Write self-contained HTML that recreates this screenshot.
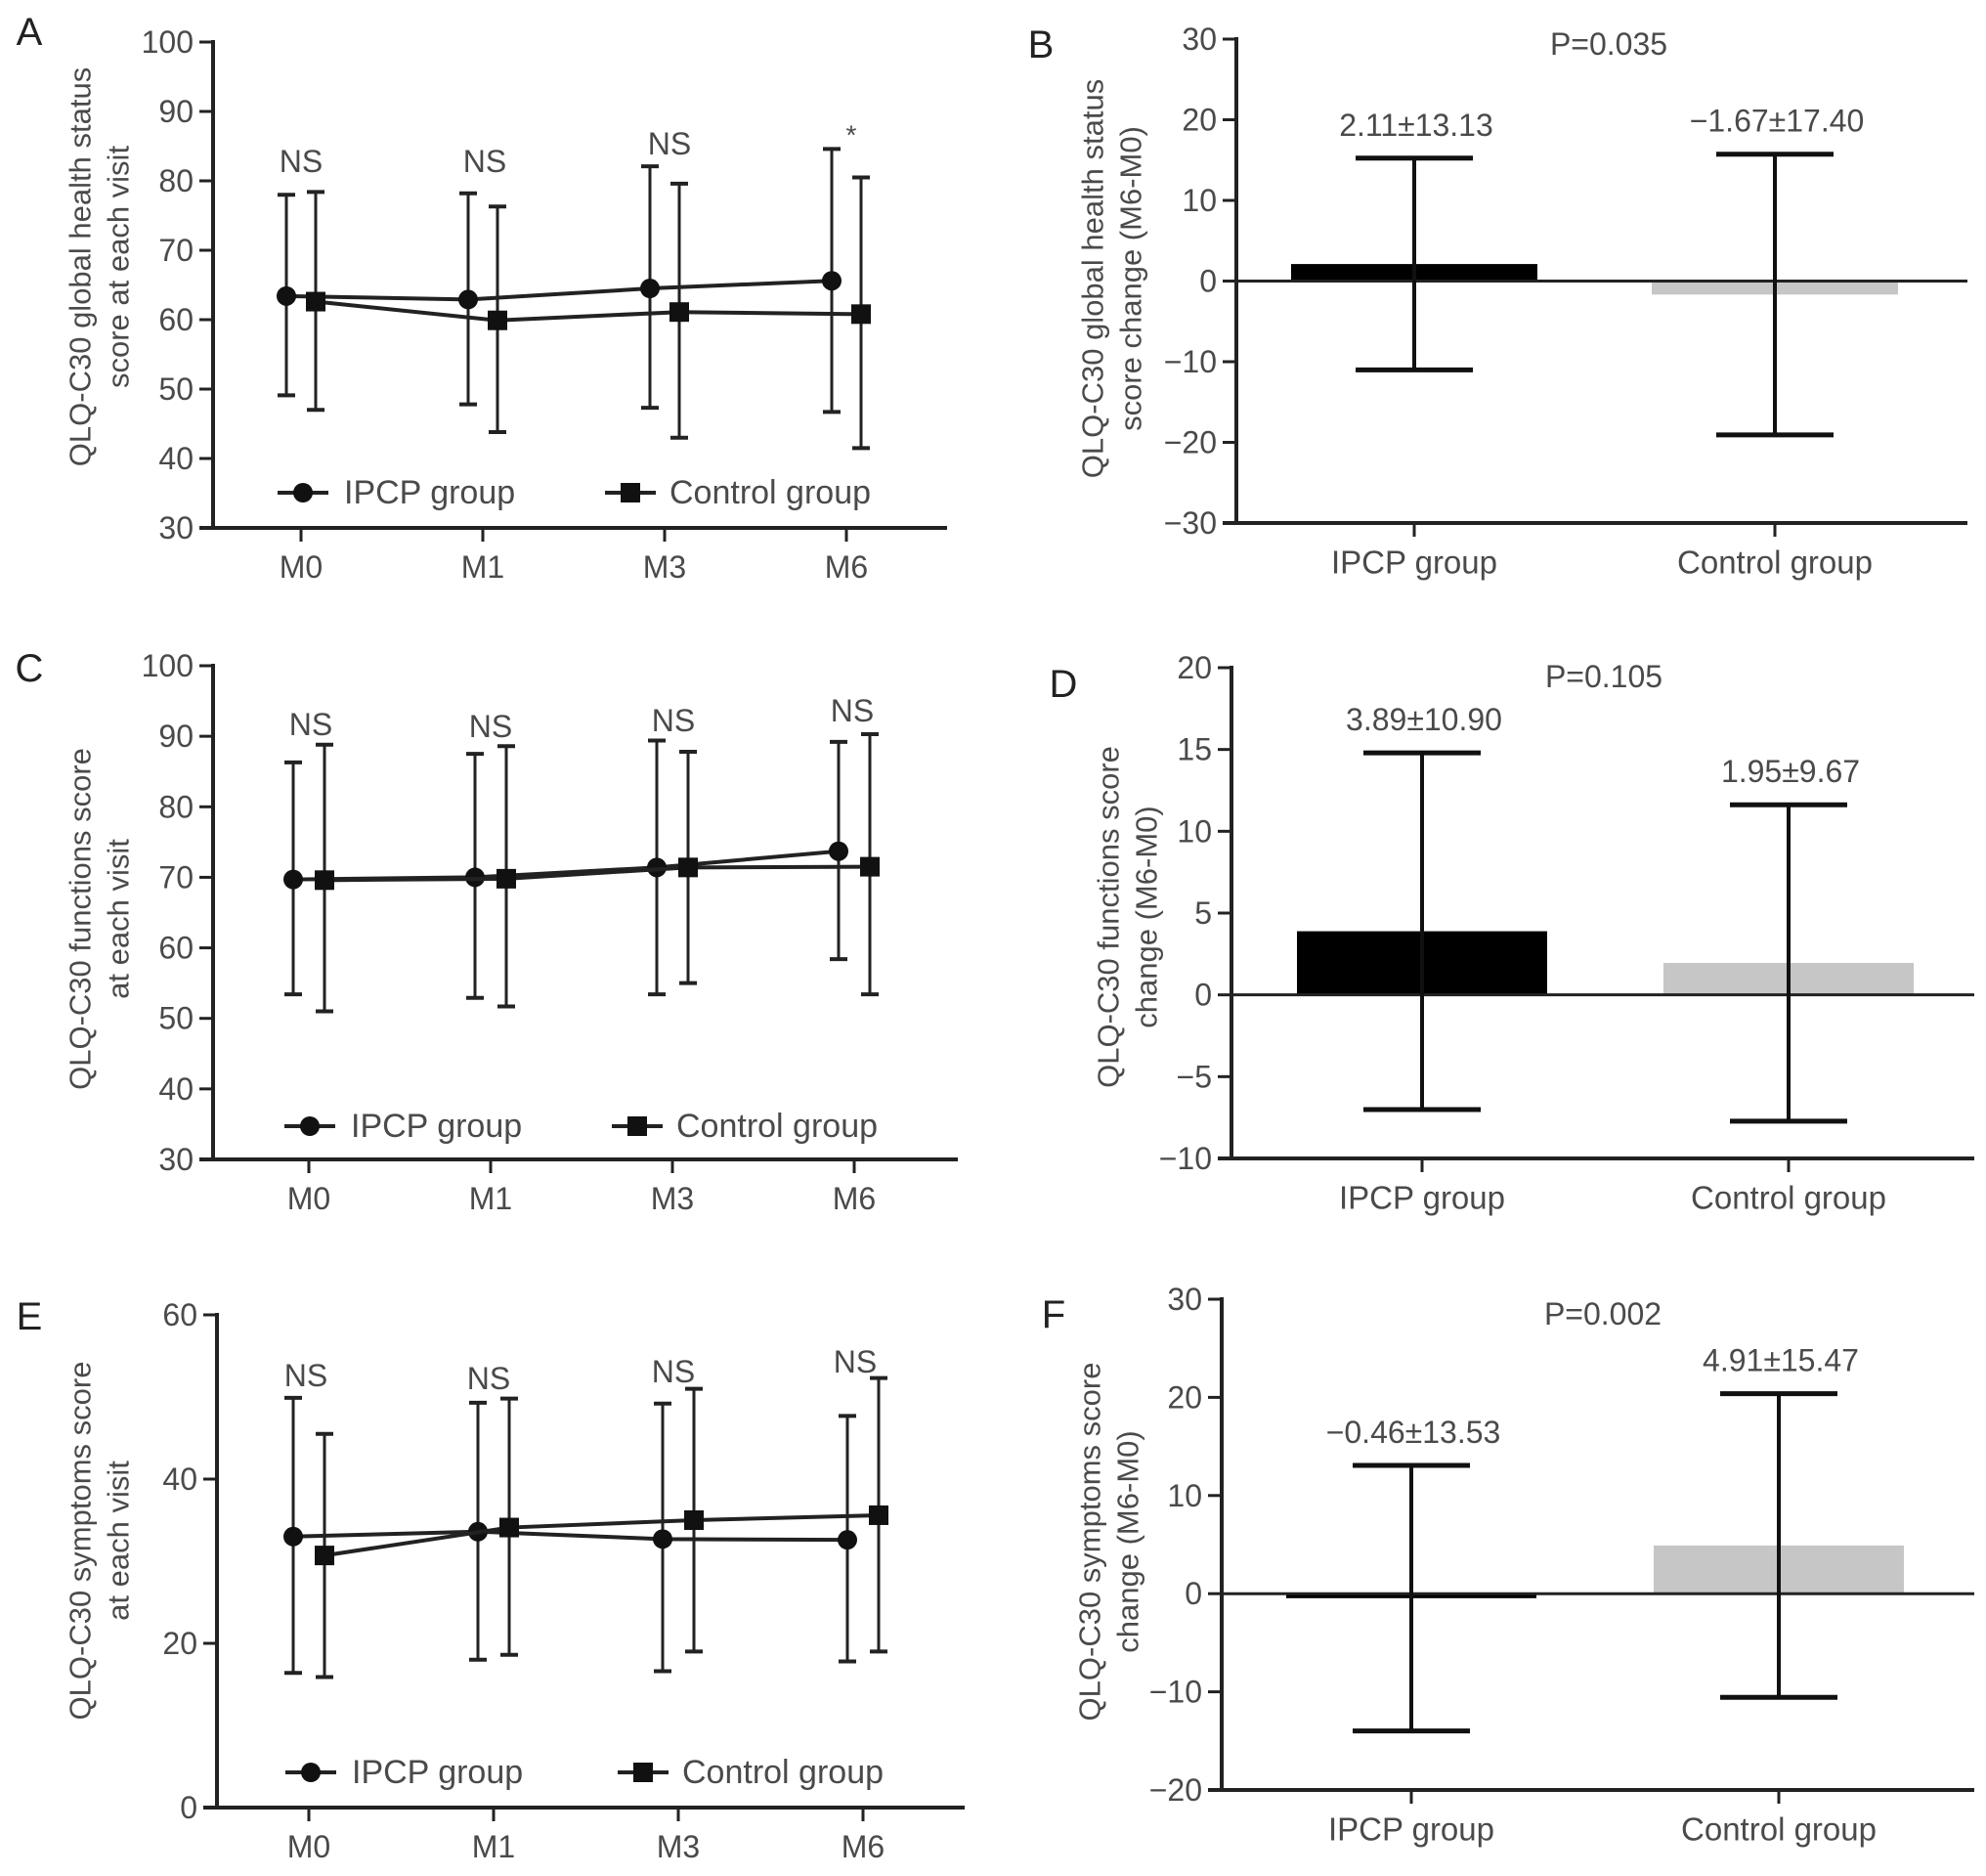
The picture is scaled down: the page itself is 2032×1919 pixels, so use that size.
<!DOCTYPE html>
<html><head><meta charset="utf-8">
<style>
html,body{margin:0;padding:0;background:#fff;}
svg{display:block;}
text{font-family:"Liberation Sans",sans-serif;fill:#4a4a4a;}
</style></head>
<body>
<svg id="fig" width="2032" height="1919" viewBox="0 0 2032 1919" xmlns="http://www.w3.org/2000/svg"></svg>
<script>
// ---- data ----
const visits = ["M0","M1","M3","M6"];
// Panel A
const aIpcpMean = [63.4, 62.9, 64.5, 65.6];
const aIpcpUp   = [78.0, 78.2, 82.1, 84.6];
const aIpcpLow  = [49.1, 47.8, 47.3, 46.7];
const aCtrlMean = [62.6, 59.9, 61.1, 60.8];
const aCtrlUp   = [78.4, 76.3, 79.6, 80.5];
const aCtrlLow  = [47.0, 43.8, 43.0, 41.5];
const aSig = ["NS","NS","NS","*"];
const aTicks = [30,40,50,60,70,80,90,100];
// Panel C
const cIpcpMean = [69.7, 70.0, 71.4, 73.7];
const cIpcpUp   = [86.3, 87.5, 89.4, 89.2];
const cIpcpLow  = [53.4, 52.9, 53.4, 58.4];
const cCtrlMean = [69.6, 69.8, 71.4, 71.5];
const cCtrlUp   = [88.8, 88.6, 87.8, 90.3];
const cCtrlLow  = [51.0, 51.7, 55.0, 53.4];
const cSig = ["NS","NS","NS","NS"];
const cTicks = [30,40,50,60,70,80,90,100];
// Panel E
const eIpcpMean = [33.0, 33.6, 32.7, 32.6];
const eIpcpUp   = [49.9, 49.3, 49.2, 47.7];
const eIpcpLow  = [16.4, 18.0, 16.6, 17.8];
const eCtrlMean = [30.7, 34.1, 35.0, 35.6];
const eCtrlUp   = [45.5, 49.8, 51.0, 52.3];
const eCtrlLow  = [15.9, 18.6, 19.0, 19.0];
const eSig = ["NS","NS","NS","NS"];
const eTicks = [0,20,40,60];
// Bar panels
const groups = ["IPCP group","Control group"];
const bMean = [2.11, -1.67];
const bSD   = [13.13, 17.40];
const bTicks = [-30,-20,-10,0,10,20,30];
const dMean = [3.89, 1.95];
const dSD   = [10.90, 9.67];
const dTicks = [-10,-5,0,5,10,15,20];
const fMean = [-0.46, 4.91];
const fSD   = [13.53, 15.47];
const fTicks = [-20,-10,0,10,20,30];

const NS = "http://www.w3.org/2000/svg";
const svg = document.getElementById('fig');
function el(tag, attrs, parent, txt){
  const e = document.createElementNS(NS, tag);
  for (const k in attrs) e.setAttribute(k, attrs[k]);
  if (txt !== undefined) e.textContent = txt;
  (parent || svg).appendChild(e);
  return e;
}
function fmt(v){ return (v<0?"\u2212":"") + Math.abs(v).toFixed(2); }

function linePanel(cfg, ipM, ipU, ipL, ctM, ctU, ctL, sig, ticks){
  const g = el('g', {});
  
  
  const yS = v => cfg.y0 + (v - cfg.vmin) / (cfg.vmax - cfg.vmin) * (cfg.y1 - cfg.y0);
  const xS = i => cfg.xt[0] + i * (cfg.xt[1] - cfg.xt[0]);
  const L = el('text', {x: cfg.lx, y: cfg.ly, 'font-size': 40, 'text-anchor':'middle', 'dominant-baseline':'central', style:'fill:#222'}, g, cfg.letter);
  
  
  const ax = el('line', {x1: cfg.ax, y1: yS(cfg.vmax) - 2, x2: cfg.ax, y2: cfg.y0 + 2, stroke:'#222', 'stroke-width':4}, g);
  
  
  const xa = el('line', {x1: cfg.ax - 14, y1: cfg.y0, x2: cfg.xend, y2: cfg.y0, stroke:'#222', 'stroke-width':4}, g);
  
  
  ticks.forEach(t => {
    el('line', {x1: cfg.ax - 14, y1: yS(t), x2: cfg.ax, y2: yS(t), stroke:'#222', 'stroke-width':3}, g);
    const tl = el('text', {x: cfg.ax - 20, y: yS(t), 'font-size': 32, 'text-anchor':'end', 'dominant-baseline':'central'}, g, t);
    
    
  });
  visits.forEach((v, i) => {
    el('line', {x1: xS(i), y1: cfg.y0, x2: xS(i), y2: cfg.y0 + 14, stroke:'#222', 'stroke-width':3}, g);
    const tl = el('text', {x: xS(i), y: cfg.y0 + 40, 'font-size': 32, 'text-anchor':'middle', 'dominant-baseline':'central'}, g, v);
    
    
  });
  const tt = el('text', {transform:`translate(${cfg.tx},${cfg.ty}) rotate(-90)`, 'font-size': 31, 'text-anchor':'middle'}, g);
  
  
  el('tspan', {x:0, y:0, 'dominant-baseline':'central'}, tt, cfg.t1);
  el('tspan', {x:0, y:39, 'dominant-baseline':'central'}, tt, cfg.t2);
  const series = [
    {m: ipM, u: ipU, l: ipL, off: -cfg.off, shape:'circle', name:'ipcp'},
    {m: ctM, u: ctU, l: ctL, off: cfg.off, shape:'square', name:'control'}
  ];
  series.forEach(s => {
    s.m.forEach((m, i) => {
      const x = xS(i) + s.off;
      const eb = el('g', {}, g);
      
      
      el('line', {x1:x, y1:yS(s.u[i]), x2:x, y2:yS(s.l[i]), stroke:'#222', 'stroke-width':3}, eb);
      el('line', {x1:x-9, y1:yS(s.u[i]), x2:x+9, y2:yS(s.u[i]), stroke:'#222', 'stroke-width':4}, eb);
      el('line', {x1:x-9, y1:yS(s.l[i]), x2:x+9, y2:yS(s.l[i]), stroke:'#222', 'stroke-width':4}, eb);
    });
    const pts = s.m.map((m, i) => (xS(i) + s.off) + ',' + yS(m)).join(' ');
    const pl = el('polyline', {points: pts, fill:'none', stroke:'#222', 'stroke-width':4}, g);
    
    
    s.m.forEach((m, i) => {
      const x = xS(i) + s.off, y = yS(m);
      let mk;
      if (s.shape === 'circle') mk = el('circle', {cx:x, cy:y, r:10, fill:'#111'}, g);
      else mk = el('rect', {x:x-10, y:y-10, width:20, height:20, fill:'#111'}, g);
      
      
    });
  });
  sig.forEach((s, i) => {
    const st = el('text', {x: xS(i) + cfg.sigDx[i], y: cfg.sigY[i], 'font-size': s === '*' ? 28 : 32, 'text-anchor':'middle', 'dominant-baseline':'central'}, g, s);
    
    
  });
  const lg = el('g', {}, g);
  
  
  const e1 = el('g', {}, lg);
  
  
  el('line', {x1: cfg.lg1 - 26, y1: cfg.lgy, x2: cfg.lg1 + 26, y2: cfg.lgy, stroke:'#222', 'stroke-width':4}, e1);
  el('circle', {cx: cfg.lg1, cy: cfg.lgy, r:10, fill:'#111'}, e1);
  el('text', {x: cfg.lg1 + 42, y: cfg.lgy, 'font-size': 34, 'dominant-baseline':'central'}, e1, 'IPCP group');
  const e2 = el('g', {}, lg);
  
  
  el('line', {x1: cfg.lg2 - 26, y1: cfg.lgy, x2: cfg.lg2 + 26, y2: cfg.lgy, stroke:'#222', 'stroke-width':4}, e2);
  el('rect', {x: cfg.lg2 - 10, y: cfg.lgy - 10, width:20, height:20, fill:'#111'}, e2);
  el('text', {x: cfg.lg2 + 40, y: cfg.lgy, 'font-size': 34, 'dominant-baseline':'central'}, e2, 'Control group');
}

function barPanel(cfg, means, sds, ticks){
  const g = el('g', {});
  
  
  const yS = v => cfg.y0 + (v - cfg.vmin) / (cfg.vmax - cfg.vmin) * (cfg.y1 - cfg.y0);
  const L = el('text', {x: cfg.lx, y: cfg.ly, 'font-size': 40, 'text-anchor':'middle', 'dominant-baseline':'central', style:'fill:#222'}, g, cfg.letter);
  
  
  const fills = ['#000', '#c6c6c6'];
  means.forEach((m, i) => {
    const x = cfg.xt[i];
    const b = el('rect', {x: x - cfg.bw/2, y: Math.min(yS(m), yS(0)), width: cfg.bw, height: Math.abs(yS(m) - yS(0)), fill: fills[i]}, g);
    
    
  });
  const zl = el('line', {x1: cfg.ax, y1: yS(0), x2: cfg.xend, y2: yS(0), stroke:'#222', 'stroke-width':3}, g);
  
  
  means.forEach((m, i) => {
    const x = cfg.xt[i];
    const up = yS(m + sds[i]), lo = yS(m - sds[i]);
    const eb = el('g', {}, g);
    
    
    el('line', {x1:x, y1:up, x2:x, y2:lo, stroke:'#111', 'stroke-width':4}, eb);
    el('line', {x1:x-60, y1:up, x2:x+60, y2:up, stroke:'#111', 'stroke-width':5}, eb);
    el('line', {x1:x-60, y1:lo, x2:x+60, y2:lo, stroke:'#111', 'stroke-width':5}, eb);
    const vl = el('text', {x: x + 2, y: up - 34, 'font-size': 32, 'text-anchor':'middle', 'dominant-baseline':'central'}, g, fmt(m) + '\u00b1' + sds[i].toFixed(2));
    
    
    el('line', {x1:x, y1:cfg.y0, x2:x, y2:cfg.y0 + 14, stroke:'#222', 'stroke-width':3}, g);
    const cl = el('text', {x: x, y: cfg.y0 + 40, 'font-size': 33, 'text-anchor':'middle', 'dominant-baseline':'central'}, g, groups[i]);
    
    
  });
  const ax = el('line', {x1: cfg.ax, y1: yS(cfg.vmax) - 2, x2: cfg.ax, y2: cfg.y0 + 2, stroke:'#222', 'stroke-width':4}, g);
  
  
  const xa = el('line', {x1: cfg.ax - 14, y1: cfg.y0, x2: cfg.xend, y2: cfg.y0, stroke:'#222', 'stroke-width':4}, g);
  
  
  ticks.forEach(t => {
    el('line', {x1: cfg.ax - 14, y1: yS(t), x2: cfg.ax, y2: yS(t), stroke:'#222', 'stroke-width':3}, g);
    const tl = el('text', {x: cfg.ax - 20, y: yS(t), 'font-size': 32, 'text-anchor':'end', 'dominant-baseline':'central'}, g, (t < 0 ? '\u2212' + Math.abs(t) : t));
    
    
  });
  const tt = el('text', {transform:`translate(${cfg.tx},${cfg.ty}) rotate(-90)`, 'font-size': 31, 'text-anchor':'middle'}, g);
  
  
  el('tspan', {x:0, y:0, 'dominant-baseline':'central'}, tt, cfg.t1);
  el('tspan', {x:0, y:39, 'dominant-baseline':'central'}, tt, cfg.t2);
  const p = el('text', {x: cfg.px, y: cfg.py, 'font-size': 32, 'text-anchor':'middle', 'dominant-baseline':'central'}, g, cfg.p);
  
  
}

linePanel({letter:'A', lx:30, ly:33, ax:218, y0:540, y1:43, vmin:30, vmax:100, xt:[308,494], xend:969, off:15,
  tx:82, ty:273, t1:'QLQ-C30 global health status', t2:'score at each visit',
  sigDx:[0,2,5,5], sigY:[165,165,147,138], lg1:310, lg2:645, lgy:504},
  aIpcpMean, aIpcpUp, aIpcpLow, aCtrlMean, aCtrlUp, aCtrlLow, aSig, aTicks);
linePanel({letter:'C', lx:30, ly:684, ax:218, y0:1186, y1:681, vmin:30, vmax:100, xt:[316,502], xend:980, off:16,
  tx:82, ty:940, t1:'QLQ-C30 functions score', t2:'at each visit',
  sigDx:[2,0,1,-2], sigY:[741,743,737,727], lg1:317, lg2:652, lgy:1152},
  cIpcpMean, cIpcpUp, cIpcpLow, cCtrlMean, cCtrlUp, cCtrlLow, cSig, cTicks);
linePanel({letter:'E', lx:30, ly:1347, ax:222, y0:1849, y1:1345, vmin:0, vmax:60, xt:[316,505], xend:987, off:16,
  tx:82, ty:1576, t1:'QLQ-C30 symptoms score', t2:'at each visit',
  sigDx:[-3,-5,-5,-8], sigY:[1407,1410,1403,1393], lg1:318, lg2:658, lgy:1813},
  eIpcpMean, eIpcpUp, eIpcpLow, eCtrlMean, eCtrlUp, eCtrlLow, eSig, eTicks);

barPanel({letter:'B', lx:1065, ly:46, ax:1265, y0:535, y1:40, vmin:-30, vmax:30, xt:[1447,1816], bw:252, xend:2013,
  tx:1118, ty:285, t1:'QLQ-C30 global health status', t2:'score change (M6-M0)', p:'P=0.035', px:1646, py:45},
  bMean, bSD, bTicks);
barPanel({letter:'D', lx:1088, ly:700, ax:1260, y0:1185, y1:683, vmin:-10, vmax:20, xt:[1455,1830], bw:256, xend:2020,
  tx:1134, ty:938, t1:'QLQ-C30 functions score', t2:'change (M6-M0)', p:'P=0.105', px:1641, py:692},
  dMean, dSD, dTicks);
barPanel({letter:'F', lx:1078, ly:1345, ax:1250, y0:1831, y1:1329, vmin:-20, vmax:30, xt:[1444,1820], bw:256, xend:2020,
  tx:1115, ty:1577, t1:'QLQ-C30 symptoms score', t2:'change (M6-M0)', p:'P=0.002', px:1640, py:1344},
  fMean, fSD, fTicks);
</script>
</body></html>
